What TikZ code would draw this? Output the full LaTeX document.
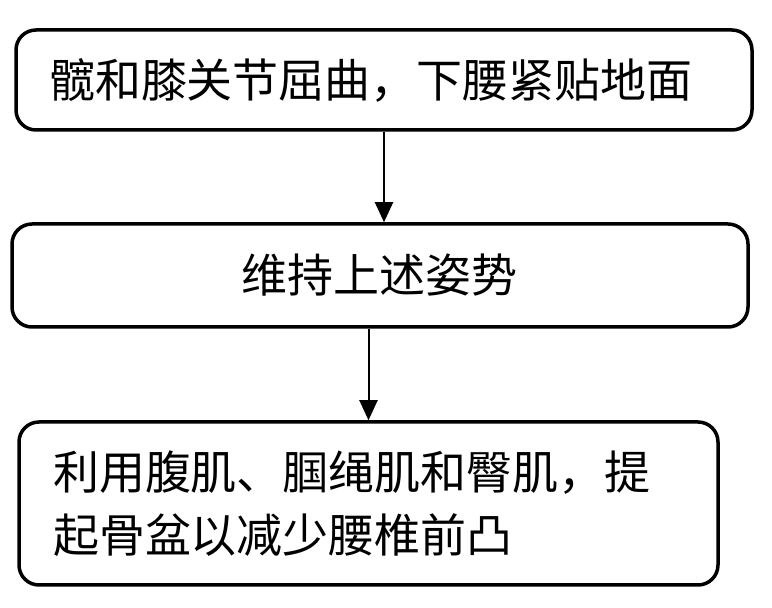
\documentclass[tikz,border=0pt]{standalone}
\usepackage{fontspec}
\newfontfamily\cjk{Noto Sans CJK SC}
\usetikzlibrary{arrows.meta}
\begin{document}
\begin{tikzpicture}[x=1pt,y=1pt,
	box/.style={draw,line width=3.5pt,rounded corners=20pt,inner xsep=33pt,inner ysep=0pt,
		font=\cjk\fontsize{46}{63}\selectfont},
	link/.style={line width=2pt,-{Triangle[length=20pt,width=18pt]}}]
	\useasboundingbox(0,0)rectangle(772,608);
	\node(step1)[box,minimum width=736pt,minimum height=100pt,text width=670pt,align=left]at(384,528){髋和膝关节屈曲，下腰紧贴地面};
	\node(step2)[box,minimum width=736pt,minimum height=103pt,text width=670pt,align=center]at(380,332.5){维持上述姿势};
	\node(step3)[box,minimum width=699pt,minimum height=163pt,text width=631pt,align=left]at(368.5,104.5){利用腹肌、腘绳肌和臀肌，提\\起骨盆以减少腰椎前凸};
	\draw[link](step1.south)--(step1.south|-step2.north);
	\draw[link](step3.north|-step2.south)--(step3.north);
\end{tikzpicture}
\end{document}
